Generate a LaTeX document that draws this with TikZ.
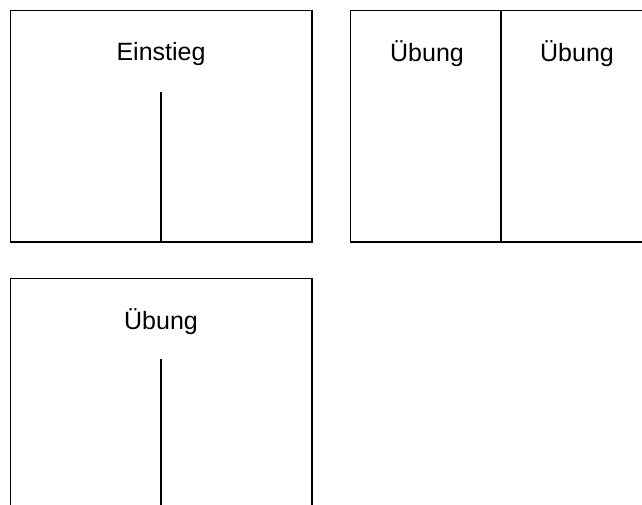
\documentclass[tikz,border=0pt]{standalone}
\usepackage{fontspec}
\setmainfont{Liberation Sans}
\tikzset{
  panel/.style={draw=black, line width=1.3pt},
  divider/.style={draw=black, line width=1.3pt},
  label/.style={font=\fontsize{25}{29}\selectfont, text=black, inner sep=0pt, anchor=center}
}
\begin{document}
\begin{tikzpicture}[x=1pt,y=-1pt]
\clip (0,0) rectangle (642,504);
\fill[white] (0,0) rectangle (642,504);
% box 1
\draw[panel] (10.5,10.5) rectangle (312,242);
\draw[divider] (161,92) -- (161,242);
\node[label] (einstieg) at (161,54) {Einstieg};
% box 2
\draw[panel] (350.5,10.5) rectangle (660,242);
\draw[divider] (501,10.5) -- (501,242);
\node[label] (uebung1) at (427,54) {Übung};
\node[label] (uebung2) at (577,54) {Übung};
% box 3
\draw[panel] (10.5,278.5) rectangle (312,520);
\draw[divider] (161,359) -- (161,520);
\node[label] (uebung3) at (161,322) {Übung};
\end{tikzpicture}
\end{document}
